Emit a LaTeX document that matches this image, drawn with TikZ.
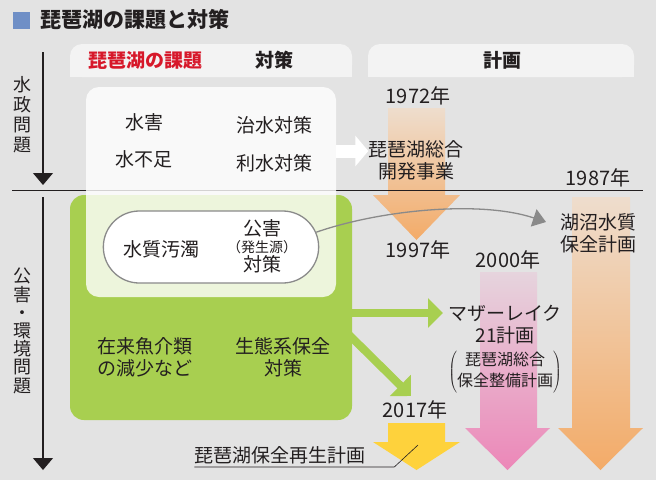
\documentclass[tikz,border=0pt]{standalone}
\usepackage{fontspec}
\setmainfont{Noto Sans CJK JP}
\usepackage{xcolor}
\definecolor{bggray}{HTML}{E3E3E3}
\definecolor{tabgray}{HTML}{F3F3F3}
\definecolor{lakegreen}{HTML}{A8CF50}
\definecolor{titleblue}{HTML}{6F8FC6}
\definecolor{issuered}{HTML}{D7182A}
\definecolor{planorange}{HTML}{F3AB68}
\definecolor{orangetop}{HTML}{EEDDCD}
\definecolor{planpink}{HTML}{EC87B8}
\definecolor{pinktop}{HTML}{E6D4DD}
\definecolor{planyellow}{HTML}{FED23C}
\definecolor{curvegray}{HTML}{8A8A8A}
\definecolor{inkblack}{HTML}{231F20}
\usetikzlibrary{arrows.meta,positioning,shapes.misc,calc}

\begin{document}
\begin{tikzpicture}[x=1pt, y=-1pt,
  txt/.style={font=\fontsize{19}{22}\selectfont, align=center,
              inner sep=0pt, text=inkblack},
  hdtxt/.style={txt, font=\fontsize{19}{22}\selectfont\bfseries},
  yeartxt/.style={txt, font=\fontsize{20}{22}\selectfont},
  vtxt/.style={txt, font=\fontsize{18}{20}\selectfont},
  smalltxt/.style={txt, font=\fontsize{16}{21}\selectfont},
  sqmark/.style={fill=titleblue, minimum size=17pt, inner sep=0pt},
  tabbox/.style={fill=tabgray, rounded corners=12pt},
  pillbox/.style={rounded rectangle, draw=curvegray, line width=1.3pt,
                  fill=white, minimum width=222pt, minimum height=72pt},
  timearr/.style={draw=inkblack, line width=1.1pt,
                  -{Triangle[length=12pt,width=20pt]}},
  warr/.style={draw=white, line width=13pt,
               -{Triangle[length=13pt,width=30pt]}},
  garr/.style={draw=lakegreen, line width=8pt,
               -{Triangle[length=15pt,width=29pt]}},
  curvarr/.style={draw=curvegray, line width=1.3pt,
                  -{Triangle[length=13pt,width=18pt]}},
  leader/.style={draw=inkblack, line width=0.6pt}
]
\useasboundingbox (0,0) rectangle (656,480);
\fill[bggray] (0,0) rectangle (656,480);

%% title
\node[anchor=west, txt, font=\fontsize{21}{24}\selectfont\bfseries] (title) at (40,20) {琵琶湖の課題と対策};
\node[sqmark, left=10pt of title] (mark) {};

%% header tabs
\fill[tabbox] (70,44) rectangle (352,77);
\fill[tabgray] (70,60) rectangle (352,77);
\fill[tabbox] (368,44) rectangle (634,77);
\fill[tabgray] (368,60) rectangle (634,77);
\node[hdtxt, text=issuered] (hkadai) at (145,60) {琵琶湖の課題};
\node[hdtxt] (htaisaku) at (274,60) {対策};
\node[hdtxt] (hkeikaku) at (502,60) {計画};

%% plan arrows
\shade[top color=orangetop, bottom color=planorange]
  (388,108) -- (445,108) -- (445,195) -- (460,195) -- (416.5,240)
  -- (373,195) -- (388,195) -- cycle;
\shade[top color=orangetop, bottom color=planorange]
  (572,197) -- (630,197) -- (630,428) -- (643,428) -- (600.5,470)
  -- (558,428) -- (572,428) -- cycle;
\shade[top color=pinktop, bottom color=planpink]
  (480,272) -- (537,272) -- (537,428) -- (550,428) -- (507.5,470)
  -- (465,428) -- (480,428) -- cycle;
\fill[planyellow]
  (388,423) -- (445,423) -- (445,442) -- (460,442) -- (416.5,470)
  -- (373,442) -- (388,442) -- cycle;

%% green box, divider, white box
\fill[lakegreen, rounded corners=14pt] (70,195) rectangle (352,420);
\node[inner sep=0pt, minimum width=282pt, minimum height=225pt] (gbox) at (211,307.5) {};
\draw[inkblack, line width=0.9pt] (12,190) -- (643,190);
\fill[white, opacity=0.8, rounded corners=13pt] (86,87) rectangle (336,297);
\node[inner sep=0pt, minimum width=250pt, minimum height=210pt] (wbox) at (211,192) {};

%% left time axes
\coordinate (ax1top) at (43,52);
\coordinate (ax1end) at (43,185);
\coordinate (ax2top) at (43,197);
\coordinate (ax2end) at (43,470);
\draw[timearr] (ax1top) -- (ax1end);
\draw[timearr] (ax2top) -- (ax2end);
\node[vtxt] (suisei) at (22,115) {水\\政\\問\\題};
\node[vtxt, font=\fontsize{18}{18.2}\selectfont] (kogai) at (22,331) {公\\害\\・\\環\\境\\問\\題};

%% issues and measures
\node[txt] (suigai)   at (144,122) {水害};
\node[txt] (chisui)   at (274,125) {治水対策};
\node[txt] (fusoku)   at (144,159) {水不足};
\node[txt] (risui)    at (274,163) {利水対策};
\node[pillbox] (pill) at (211,247) {};
\node[txt] (odaku)    at (161,249) {水質汚濁};
\node[txt] (kogai1)   at (262,228) {公害};
\node[txt, font=\fontsize{14}{16}\selectfont, below=3pt of kogai1] (hasseigen) {（発生源）};
\node[txt, below=2pt of hasseigen] (kogai2) {対策};
\node[txt] (gyokai)   at (145,357) {在来魚介類\\の減少など};
\node[txt] (seitai)   at (283,357) {生態系保全\\対策};

%% plans
\node[yeartxt] (y1972) at (418,96)  {1972年};
\node[txt] (kaihatsu)  at (416,160) {琵琶湖総合\\開発事業};
\node[yeartxt] (y1987) at (598,178) {1987年};
\node[yeartxt] (y1997) at (418,250) {1997年};
\node[txt] (kosho)     at (598,233) {湖沼水質\\保全計画};
\node[yeartxt] (y2000) at (508,260) {2000年};
\node[txt] (mother)    at (505,325) {マザーレイク\\21計画};
\node[smalltxt] (seibi) at (505,372)
  {$\left(\mbox{\begin{tabular}{@{}c@{}}琵琶湖総合\\保全整備計画\end{tabular}}\right)$};
\node[yeartxt] (y2017) at (415,410) {2017年};
\node[txt] (saisei)    at (280,455) {琵琶湖保全再生計画};

%% arrows
\coordinate (koshotip) at (546,222);
\coordinate (mothertip) at (443,313);
\coordinate (kihontip) at (411,396);
\coordinate (yelmark) at (418,445);
\draw[warr] (wbox.east |- 0,151) -- (kaihatsu.west |- 0,151);
\draw[curvarr] (pill.8) .. controls (380,210) and (480,200) .. (koshotip);
\draw[garr] (gbox.east |- mothertip) -- (mothertip);
\draw[garr] ([xshift=-4pt]gbox.east |- 0,334) -- (kihontip);
\draw[leader] ([yshift=-3pt]saisei.south west) -- ++(200,0) -- (yelmark);

\end{tikzpicture}
\end{document}
